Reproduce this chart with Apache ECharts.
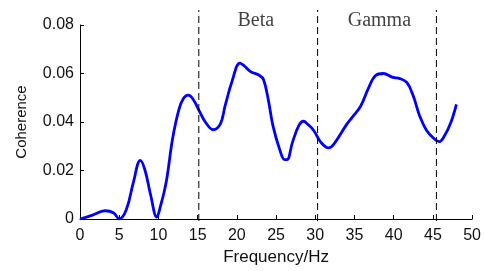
<!DOCTYPE html>
<html>
<head>
<meta charset="utf-8">
<script src="https://cdn.jsdelivr.net/npm/echarts@6/dist/echarts.min.js"></script>
<style>
  html, body { margin: 0; padding: 0; background: #fff; }
  #main { width: 484px; height: 271px; }
</style>
</head>
<body>
<div id="main"></div>
<script>
  // frequency (Hz) and coherence
  var freq = [0, 1.5, 3.2, 4.3, 5.0, 5.9, 6.8, 7.7, 8.3, 9.0, 9.8, 10.2, 11.0, 11.8, 12.6, 13.2, 13.8, 14.4, 15.2, 16.0, 17.0, 17.9, 18.5, 19.4, 20.4, 21.0, 21.7, 22.9, 23.4, 24.0, 24.6, 25.5, 26.1, 26.4, 27.1, 27.9, 28.5, 29.0, 29.8, 30.7, 31.7, 32.4, 33.9, 34.7, 35.8, 36.8, 37.7, 38.7, 39.8, 40.8, 41.7, 42.5, 43.3, 44.2, 45.2, 45.8, 46.5, 47.3, 48.0];
  var coherence = [0, 0.0015, 0.0034, 0.0025, 0, 0.0038, 0.015, 0.0242, 0.020, 0.010, 0.0008, 0.0045, 0.0154, 0.033, 0.045, 0.0498, 0.0511, 0.0495, 0.0446, 0.0399, 0.0368, 0.0392, 0.0466, 0.0569, 0.0643, 0.0630, 0.0609, 0.0592, 0.0575, 0.0494, 0.0385, 0.0283, 0.0245, 0.0245, 0.0317, 0.0385, 0.0403, 0.0392, 0.0365, 0.0317, 0.0293, 0.0310, 0.0385, 0.0419, 0.0466, 0.0541, 0.0592, 0.0600, 0.0585, 0.0579, 0.0562, 0.0507, 0.0426, 0.0365, 0.0330, 0.0319, 0.0344, 0.0399, 0.0473];
  var bandEdges = [15, 30, 45];
  var bandNames = ['Beta', 'Gamma'];
  var bandCenters = [22.2, 37.8];

  var lineData = freq.map(function (f, i) { return [f, coherence[i]]; });

  // dashed band separators live on a hidden overlay grid that reaches above the plot
  var edgeSeries = bandEdges.map(function (e) {
    return {
      type: 'line', xAxisIndex: 1, yAxisIndex: 1, symbol: 'none', silent: true,
      data: [[e, 0], [e, 1]],
      lineStyle: { color: '#000', width: 1, type: [7, 4] }
    };
  });

  var chart = echarts.init(document.getElementById('main'));
  chart.setOption({
    animation: false,
    grid: [
      { left: 80, right: 8, top: 25, bottom: 50 },
      { left: 80, right: 8, top: 10, bottom: 50 }
    ],
    xAxis: [{
      type: 'value', min: 0, max: 50, interval: 5,
      name: 'Frequency/Hz', nameLocation: 'middle', nameGap: 30,
      nameTextStyle: { fontFamily: 'Liberation Sans', fontSize: 17, color: '#111' },
      axisLine: { lineStyle: { color: '#000', width: 1 } },
      axisTick: { inside: true, length: 4, lineStyle: { color: '#000' } },
      axisLabel: { fontFamily: 'Liberation Sans', fontSize: 16, color: '#111', margin: 9 },
      splitLine: { show: false }
    }, {
      type: 'value', gridIndex: 1, min: 0, max: 50, show: false
    }],
    yAxis: [{
      type: 'value', min: 0, max: 0.08, interval: 0.02,
      name: 'Coherence', nameLocation: 'middle', nameGap: 51,
      nameTextStyle: { fontFamily: 'Liberation Sans', fontSize: 15, color: '#111' },
      axisLine: { show: true, lineStyle: { color: '#000', width: 1 } },
      axisTick: { show: true, inside: true, length: 4, lineStyle: { color: '#000' } },
      axisLabel: { fontFamily: 'Liberation Sans', fontSize: 16, color: '#111', margin: 6 },
      splitLine: { show: false }
    }, {
      type: 'value', gridIndex: 1, min: 0, max: 1, show: false
    }],
    series: [{
      type: 'line', data: lineData, smooth: 0.4, symbol: 'none',
      lineStyle: { color: '#0000ff', width: 2.8 }
    }, {
      type: 'scatter', xAxisIndex: 1, yAxisIndex: 1, symbolSize: 0, silent: true,
      data: bandCenters.map(function (c, i) { return { value: [c, 0.95], name: bandNames[i] }; }),
      label: {
        show: true, position: 'inside', formatter: '{b}',
        fontFamily: 'Liberation Serif', fontSize: 20, color: '#111'
      }
    }].concat(edgeSeries)
  });
</script>
</body>
</html>
